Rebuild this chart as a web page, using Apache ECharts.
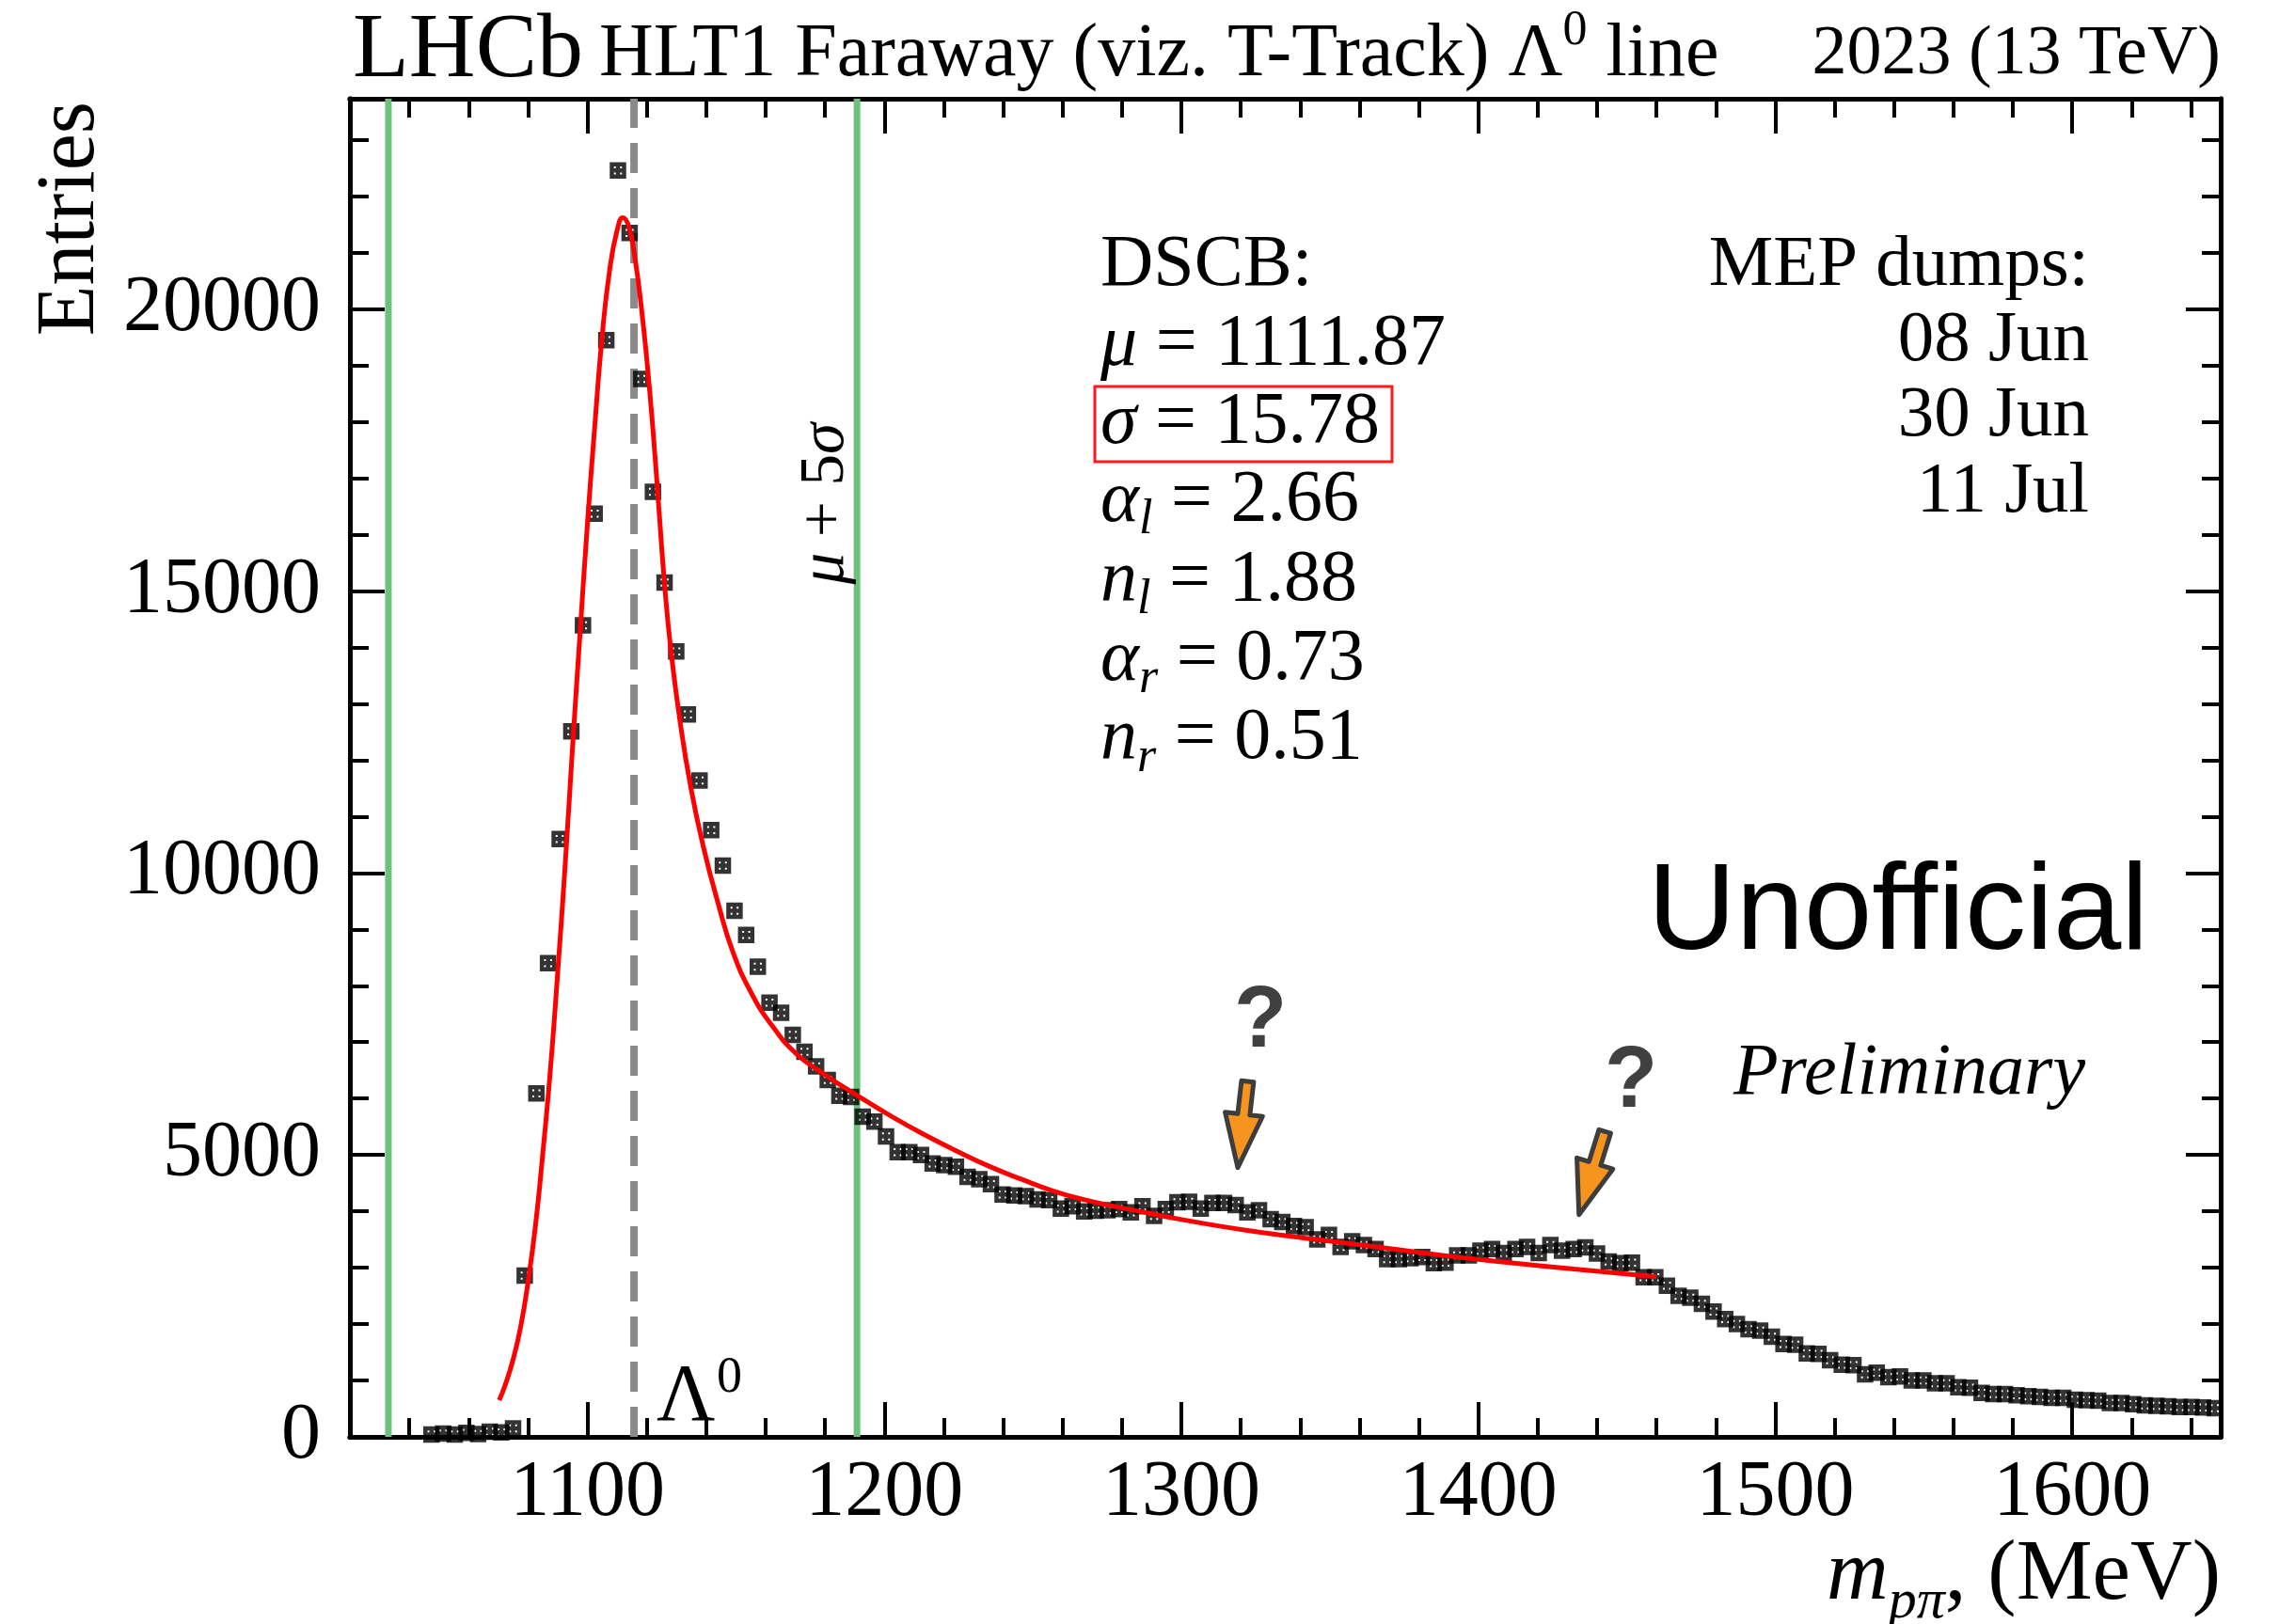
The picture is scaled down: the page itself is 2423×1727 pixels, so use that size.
<!DOCTYPE html>
<html>
<head>
<meta charset="utf-8">
<script src="https://cdn.jsdelivr.net/npm/echarts@6/dist/echarts.min.js"></script>
<style>
html,body{margin:0;padding:0;background:#ffffff;}
#chart{width:2423px;height:1727px;}
</style>
</head>
<body>
<div id="chart"></div>
<script>
// ---------------- data ----------------
const X_MIN = 1020, X_MAX = 1650;
const Y_MIN = 0, Y_MAX = 23730;

const xTickLabels = [1100, 1200, 1300, 1400, 1500, 1600];
const xMinorTicks = [1040, 1060, 1080, 1120, 1140, 1160, 1180, 1220, 1240, 1260, 1280,
  1320, 1340, 1360, 1380, 1420, 1440, 1460, 1480, 1520, 1540, 1560, 1580, 1620, 1640];
const yTickLabels = [0, 5000, 10000, 15000, 20000];
const yMinorTicks = [1000, 2000, 3000, 4000, 6000, 7000, 8000, 9000, 11000, 12000, 13000, 14000,
  16000, 17000, 18000, 19000, 21000, 22000, 23000];

// histogram binning (first filled bin centre, bin width in MeV)
const FIRST_BIN_CENTER = 1047.475;
const BIN_WIDTH = 3.925;
// entries per bin
const entries = [
  40, 60, 40, 70, 50, 90, 80, 150,
  2860, 6090, 8400, 10600, 12510, 14390, 16370, 19450, 22460, 21350,
  18760, 16760, 15150, 13930, 12810, 11640, 10760, 10130, 9330, 8900,
  8340, 7700, 7520, 7130, 6830, 6570, 6330, 6050, 6030, 5680,
  5590, 5330, 5050, 5050, 5000, 4850, 4820, 4790, 4610, 4570,
  4480, 4300, 4280, 4270, 4210, 4200, 4050, 4090, 4000, 4010,
  4020, 4040, 3980, 4090, 3920, 4040, 4160, 4170, 4050, 4150,
  4150, 4110, 3980, 4020, 3860, 3810, 3740, 3720, 3500, 3580,
  3370, 3470, 3400, 3330, 3150, 3150, 3170, 3190, 3080, 3090,
  3220, 3220, 3300, 3330, 3260, 3330, 3370, 3260, 3400, 3300,
  3330, 3360, 3250, 3110, 3080, 3090, 2830, 2830, 2680, 2500,
  2470, 2360, 2220, 2090, 2000, 1910, 1885, 1775, 1645, 1635,
  1480, 1470, 1360, 1280, 1270, 1110, 1140, 1060, 1070, 1000,
  1000, 950, 950, 880, 870, 780, 760, 760, 740, 720,
  710, 690, 690, 660, 650, 640, 600, 600, 580, 560,
  550, 540, 530, 530, 520, 510
];

// fitted curve
const fitMass = [1070.3, 1072.5, 1075, 1077.5, 1080, 1082.5, 1085, 1087.5, 1090, 1092.5, 1095, 1097.5,
  1100, 1102.5, 1105, 1107.5, 1110, 1111.9, 1114, 1116, 1118, 1120, 1122, 1124, 1126, 1128,
  1131.2, 1134.9, 1139.1, 1143.9, 1149.1, 1155.5, 1161.8, 1170.2, 1180, 1190, 1202.5, 1213.4,
  1224.3, 1235.2, 1246.1, 1256.9, 1267.8, 1278.7, 1289.6, 1300.5, 1311.4, 1322.3, 1333.2, 1344,
  1367, 1390.9, 1410.5, 1432.2, 1454, 1460];
const fitValues = [650, 950, 1380, 1950, 2750, 3750, 5050, 6500, 8250, 10150, 12250, 14250,
  16200, 17950, 19550, 20700, 21400, 21620, 21450, 20900, 20100, 19100, 17900, 16500, 15100, 14000,
  12680, 11490, 10450, 9480, 8580, 7840, 7320, 6800, 6420, 6080, 5680, 5360,
  5070, 4800, 4570, 4360, 4200, 4075, 3960, 3850, 3750, 3660, 3580, 3510,
  3360, 3200, 3090, 2975, 2870, 2840];

// fit parameters / reference mass
const MU = 1111.87;
const SIGMA = 15.78;
const LAMBDA_MASS = 1115.68;
const fitParamLines = [
  ['μ', '', '1111.87'],
  ['σ', '', '15.78'],
  ['α', 'l', '2.66'],
  ['n', 'l', '1.88'],
  ['α', 'r', '0.73'],
  ['n', 'r', '0.51']
];
const dumpDates = ['08 Jun', '30 Jun', '11 Jul'];

// ---------------- chart ----------------
const SERIF = '"Liberation Serif", "Times New Roman", Times, serif';
const SANS = '"Liberation Sans", Arial, Helvetica, sans-serif';
const chart = echarts.init(document.getElementById('chart'), null, {renderer: 'canvas', width: 2423, height: 1727});

const FRAME = {color: '#000', width: 5};
const TICKW = {color: '#000', width: 4};
const MAJ = 37, MIN = 20;
const plain = (v) => String(Math.round(v));

function xAxisDef(pos, ticks, len, labels) {
  return {
    type: 'value', position: pos, min: X_MIN, max: X_MAX, gridIndex: 0,
    axisLine: {show: true, onZero: false, lineStyle: FRAME},
    axisTick: {show: true, inside: true, length: len, customValues: ticks, lineStyle: TICKW},
    axisLabel: labels ? {show: true, customValues: labels, formatter: plain, margin: 19, fontFamily: SERIF, fontSize: 84, color: '#000'} : {show: false},
    splitLine: {show: false}, minorTick: {show: false}, minorSplitLine: {show: false}
  };
}
function yAxisDef(pos, ticks, len, labels) {
  return {
    type: 'value', position: pos, min: Y_MIN, max: Y_MAX, gridIndex: 0,
    axisLine: {show: true, onZero: false, lineStyle: FRAME},
    axisTick: {show: true, inside: true, length: len, customValues: ticks, lineStyle: TICKW},
    axisLabel: labels ? {show: true, customValues: labels, formatter: plain, margin: 31, fontFamily: SERIF, fontSize: 84, color: '#000'} : {show: false},
    splitLine: {show: false}, minorTick: {show: false}, minorSplitLine: {show: false}
  };
}

const histData = entries.map((v, i) => [FIRST_BIN_CENTER + i * BIN_WIDTH, v]);
const fitData = fitMass.map((m, i) => [m, fitValues[i]]);

function vLine(name, x, color, width, type, z) {
  return {
    name, type: 'line', xAxisIndex: 0, yAxisIndex: 0, z,
    data: [[x, Y_MIN], [x, Y_MAX]], showSymbol: false, symbol: 'none',
    lineStyle: {color, width, type}, silent: true, animation: false
  };
}

chart.setOption({
  animation: false,
  backgroundColor: '#ffffff',
  grid: {left: 372, right: 62, top: 105, bottom: 199, containLabel: false, outerBoundsMode: 'none'},
  xAxis: [
    xAxisDef('bottom', xTickLabels, MAJ, xTickLabels),
    xAxisDef('bottom', xMinorTicks, MIN, null),
    xAxisDef('top', xTickLabels, MAJ, null),
    xAxisDef('top', xMinorTicks, MIN, null)
  ],
  yAxis: [
    yAxisDef('left', yTickLabels, MAJ, yTickLabels),
    yAxisDef('left', yMinorTicks, MIN, null),
    yAxisDef('right', yTickLabels, MAJ, null),
    yAxisDef('right', yMinorTicks, MIN, null)
  ],
  series: [
    vLine('mu-5sigma', MU - 5 * SIGMA, '#6cc27b', 7, 'solid', 1),
    vLine('mu+5sigma', MU + 5 * SIGMA, '#6cc27b', 7, 'solid', 1),
    vLine('Lambda mass', LAMBDA_MASS, '#8a8a8a', 8, [32, 16], 2),
    {
      name: 'data', type: 'scatter', xAxisIndex: 0, yAxisIndex: 0, z: 3,
      data: histData,
      symbol: 'path://M0 0H12V12H0Z M6 0V12 M0 6H12',
      symbolSize: [13, 13],
      itemStyle: {color: 'rgba(0,0,0,0)', borderColor: '#000', borderWidth: 4.5},
      silent: true, animation: false
    },
    {
      name: 'fit', type: 'line', xAxisIndex: 0, yAxisIndex: 0, z: 4,
      data: fitData, smooth: 0.5, showSymbol: false, symbol: 'none',
      lineStyle: {color: '#ff0000', width: 5}, silent: true, animation: false
    }
  ]
});

// ---------------- annotations ----------------
function txt(x, y, text, opt) {
  return {
    type: 'text', x, y, z: 50, silent: true,
    style: Object.assign({text, fill: '#000', fontFamily: SERIF, fontSize: 76, align: 'left', verticalAlign: 'middle'}, opt || {})
  };
}

function arrowPoints(tail, tip) {
  const dx = tip[0] - tail[0], dy = tip[1] - tail[1];
  const L = Math.hypot(dx, dy);
  const ux = dx / L, uy = dy / L, nx = -uy, ny = ux;
  const HL = 57, HW = 20, SW = 6.5;
  const hx = tip[0] - ux * HL, hy = tip[1] - uy * HL;
  return [
    [tail[0] + nx * SW, tail[1] + ny * SW], [hx + nx * SW, hy + ny * SW], [hx + nx * HW, hy + ny * HW],
    [tip[0], tip[1]],
    [hx - nx * HW, hy - ny * HW], [hx - nx * SW, hy - ny * SW], [tail[0] - nx * SW, tail[1] - ny * SW]
  ];
}
const arrowAnchors = [
  {tail: [1322.3, 6305], tip: [1319.0, 4775]},
  {tail: [1442.6, 5416], tip: [1433.9, 3941]}
];
const toPx = (p) => chart.convertToPixel({xAxisIndex: 0, yAxisIndex: 0}, p);

const g = [];
// title line
g.push(txt(375, 55, 'LHCb', {fontSize: 98}));
g.push(txt(637, 59, 'HLT1 Faraway (viz. T-Track) Λ{sup|0} line', {
  fontSize: 80, lineHeight: 104,
  rich: {sup: {fontSize: 52, lineHeight: 52, verticalAlign: 'top', fontFamily: SERIF, fill: '#000'}}
}));
g.push(txt(2361, 59, '2023 (13 TeV)', {align: 'right', fontSize: 74}));

// axis titles
g.push(Object.assign(txt(76, 108, 'Entries', {align: 'right', fontSize: 88}), {rotation: Math.PI / 2}));
g.push(txt(2361, 1676, '{i|m}{sub|pπ}, (MeV)', {
  align: 'right', fontSize: 91, lineHeight: 116,
  rich: {
    i: {fontStyle: 'italic', fontSize: 91, lineHeight: 116, fontFamily: SERIF, fill: '#000'},
    sub: {fontStyle: 'italic', fontSize: 60, lineHeight: 60, verticalAlign: 'bottom', fontFamily: SERIF, fill: '#000'}
  }
}));

// DSCB block
const richDS = {
  i: {fontStyle: 'italic', fontSize: 78, lineHeight: 92, fontFamily: SERIF, fill: '#000'},
  sub: {fontStyle: 'italic', fontSize: 52, lineHeight: 52, verticalAlign: 'bottom', fontFamily: SERIF, fill: '#000'}
};
const dsY = [283, 367, 450, 533, 618, 702, 786];
g.push(txt(1170, dsY[0], 'DSCB:', {fontSize: 78}));
fitParamLines.forEach((ln, k) => {
  const s = '{i|' + ln[0] + '}' + (ln[1] ? '{sub|' + ln[1] + '}' : '') + ' = ' + ln[2];
  g.push(txt(1170, dsY[k + 1], s, {fontSize: 78, lineHeight: 92, rich: richDS}));
});
// red box around sigma
g.push({type: 'rect', z: 49, silent: true, shape: {x: 1164, y: 411, width: 316, height: 80},
  style: {fill: 'none', stroke: '#ff1a1a', lineWidth: 3}});

// MEP dumps block
g.push(txt(2221, 283, 'MEP dumps:', {align: 'right', fontSize: 77}));
dumpDates.forEach((d, k) => g.push(txt(2221, [363, 443, 524][k], d, {align: 'right', fontSize: 77})));

// Unofficial / Preliminary
g.push(txt(2018, 973, 'Unofficial', {align: 'center', fontFamily: SANS, fontSize: 130}));
g.push(txt(2030, 1142, 'Preliminary', {align: 'center', fontStyle: 'italic', fontSize: 78}));

// mu+5sigma rotated label
g.push(Object.assign(txt(878, 450, '{i|μ} + 5{i|σ}', {
  align: 'right', fontSize: 67,
  rich: {i: {fontStyle: 'italic', fontSize: 67, fontFamily: SERIF, fill: '#000'}}
}), {rotation: Math.PI / 2}));

// Lambda0 label
g.push(txt(698, 1487, 'Λ', {fontSize: 86}));
g.push(txt(762, 1466, '0', {fontSize: 54}));

// question marks
g.push(txt(1340, 1088, '?', {align: 'center', fontFamily: SANS, fontWeight: 'bold', fontSize: 92, fill: '#404040'}));
g.push(txt(1734, 1152, '?', {align: 'center', fontFamily: SANS, fontWeight: 'bold', fontSize: 92, fill: '#404040'}));

// arrows
arrowAnchors.forEach(a => {
  g.push({type: 'polygon', z: 60, silent: true,
    shape: {points: arrowPoints(toPx(a.tail), toPx(a.tip))},
    style: {fill: '#f7941d', stroke: '#3d3d3d', lineWidth: 5, lineJoin: 'round'}});
});

chart.setOption({graphic: g});
</script>
</body>
</html>
